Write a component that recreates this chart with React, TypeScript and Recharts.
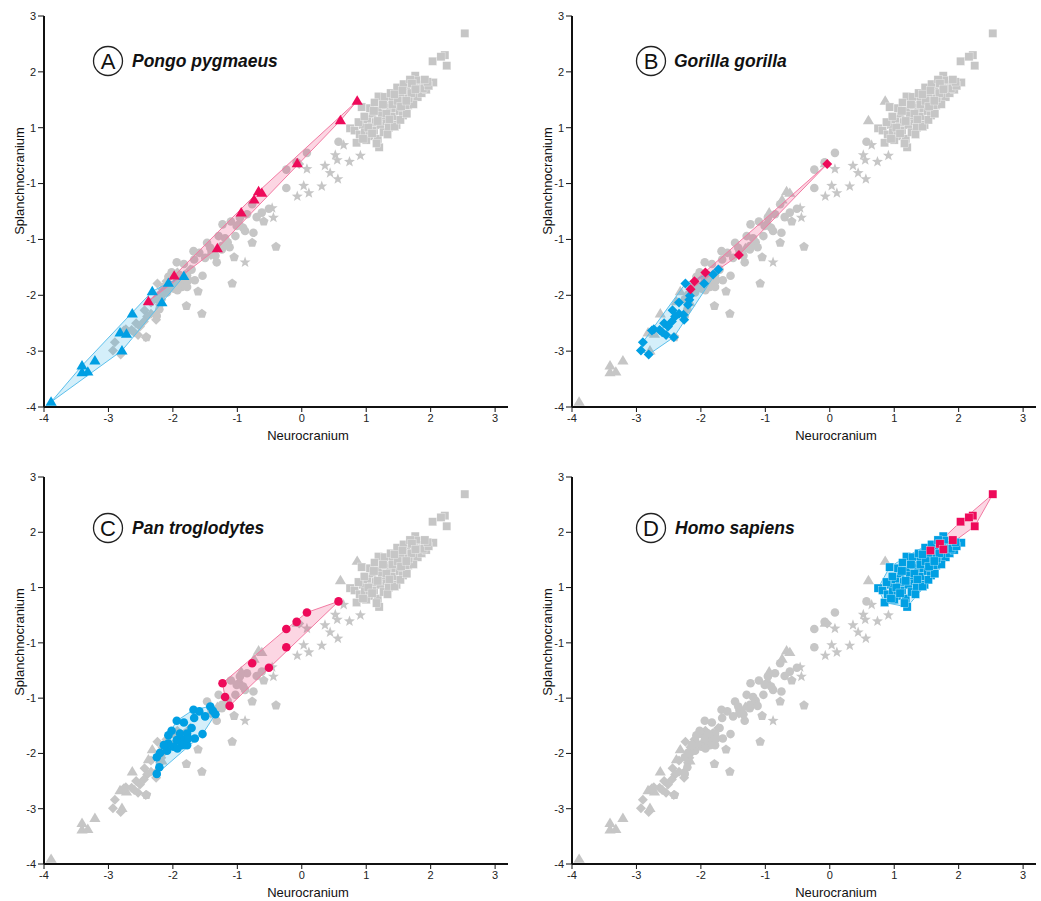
import { ScatterChart, Scatter, XAxis, YAxis } from 'recharts'

const FONT = '"Liberation Sans", Arial, Helvetica, sans-serif'
const GRAY = '#c6c6c6'
const BLUE = '#009fe3'
const PINK = '#ee0a5a'

const xTicks = [-4, -3, -2, -1, 0, 1, 2, 3]
const yTicks = [-4, -3, -2, -1, 0, 1, 2, 3]
// the source figure labels the zero line "-1"
const yTickLabel = (v: number) => (v === 0 ? '-1' : String(v))

// Pongo pygmaeus (triangles)
const pongoBlue = [
  [-3.89, -3.91], [-3.41, -3.26], [-3.41, -3.38], [-3.32, -3.37], [-3.21, -3.17],
  [-2.79, -2.99], [-2.82, -2.67], [-2.72, -2.69], [-2.63, -2.33], [-2.32, -1.93],
  [-2.17, -2.13], [-2.07, -1.78], [-1.83, -1.66],
]
const pongoPink = [
  [-2.38, -2.11], [-1.98, -1.65], [-1.31, -1.16], [-0.94, -0.52], [-0.74, -0.29],
  [-0.67, -0.14], [-0.62, -0.17], [-0.07, 0.36], [0.6, 1.13], [0.86, 1.48],
]

// Gorilla gorilla (diamonds)
const gorillaBlue = [
  [-1.73, -1.54], [-1.81, -1.63], [-1.95, -1.79], [-2.24, -1.79], [-2.17, -2.01],
  [-2.18, -2.08], [-2.2, -2.17], [-2.34, -2.13], [-2.44, -2.27], [-2.4, -2.38],
  [-2.26, -2.44], [-2.45, -2.47], [-2.57, -2.5], [-2.51, -2.56], [-2.64, -2.62],
  [-2.73, -2.61], [-2.76, -2.63], [-2.54, -2.71], [-2.42, -2.75], [-2.9, -2.84],
  [-2.93, -2.99], [-2.81, -3.06], [-2.34, -2.33], [-2.27, -2.35], [-2.6, -2.66],
]
const gorillaPink = [
  [-0.04, 0.35], [-1.41, -1.28], [-1.93, -1.59], [-2.1, -1.75], [-2.16, -1.89],
]

// Pan troglodytes (circles)
const panBlue = [
  [-2.25, -2.37], [-2.21, -2.25], [-2.25, -2.07], [-2.2, -1.99], [-2.09, -1.95],
  [-2.07, -1.67], [-2.02, -1.59], [-1.94, -1.41], [-1.83, -1.44], [-1.68, -1.21],
  [-1.59, -1.24], [-1.5, -1.33], [-1.67, -1.36], [-1.42, -1.15], [-1.38, -1.23],
  [-1.34, -1.29], [-1.54, -1.65], [-1.66, -1.73], [-1.71, -1.54], [-1.78, -1.64],
  [-1.84, -1.76], [-1.86, -1.85], [-1.94, -1.76], [-1.99, -1.88], [-2.07, -1.82],
  [-2.14, -1.85], [-1.93, -1.91], [-1.78, -1.85], [-1.89, -1.64], [-1.76, -1.73],
]
const panPink = [
  [0.57, 0.75], [0.08, 0.55], [-0.08, 0.38], [-0.24, 0.25], [-0.24, -0.08],
  [-0.77, -0.37], [-0.51, -0.45], [-1.23, -0.73], [-1.19, -0.98], [-1.12, -1.14],
]

// Homo sapiens (squares)
const homoBlue = [
  [0.75, 0.99], [0.85, 0.73], [1.2, 0.65], [2.04, 1.81], [1.76, 1.93], [1.19, 1.56], [0.93, 1.37],
  [0.82, 0.95], [0.9, 0.88], [0.95, 1.05], [0.98, 0.92], [1.02, 1.15], [1.05, 0.85], [1.08, 1.02],
  [1.1, 1.25], [1.12, 0.95], [1.15, 1.1], [1.18, 0.8], [1.2, 1.3], [1.22, 1.05], [1.25, 1.18],
  [1.27, 0.92], [1.3, 1.4], [1.32, 1.12], [1.35, 1.0], [1.37, 1.28], [1.4, 1.5], [1.42, 1.2],
  [1.45, 1.35], [1.47, 1.05], [1.5, 1.62], [1.52, 1.3], [1.55, 1.45], [1.57, 1.22], [1.6, 1.55],
  [1.62, 1.72], [1.65, 1.4], [1.67, 1.6], [1.7, 1.8], [1.72, 1.5], [1.75, 1.65], [1.78, 1.85],
  [1.8, 1.55], [1.83, 1.72], [1.86, 1.62], [1.9, 1.78], [1.93, 1.68], [0.88, 1.1], [0.97, 1.2],
  [1.0, 0.78], [1.06, 1.35], [1.13, 1.45], [1.16, 0.72], [1.28, 1.55], [1.33, 0.88], [1.38, 1.62],
  [1.44, 1.02], [1.48, 1.72], [1.53, 1.14], [1.58, 1.78], [1.63, 1.25], [1.68, 1.86], [1.73, 1.42],
  [1.88, 1.7], [1.03, 1.0], [1.24, 1.22], [1.41, 1.42], [1.56, 1.58], [1.66, 1.52], [1.09, 0.9],
  [1.31, 1.25], [1.49, 1.48], [1.97, 1.75], [1.95, 1.82], [1.7, 1.62], [1.54, 1.38], [1.36, 1.15],
  [1.18, 1.12], [0.95, 0.8], [1.12, 1.3], [1.26, 1.42], [1.44, 1.6], [1.62, 1.48], [1.78, 1.7],
]
const homoPink = [
  [2.53, 2.69], [2.22, 2.3], [2.16, 2.27], [2.03, 2.19], [2.25, 2.11],
  [1.91, 1.86], [1.71, 1.79], [1.76, 1.69], [1.56, 1.67],
]

// other groups, always grey
const otherCircles = [
  [-1.29, -0.94], [-1.32, -1.41], [-1.47, -1.06], [-1.03, -0.94], [-0.96, -0.61],
  [-0.88, -0.85], [-0.97, -0.73], [-0.62, -0.52], [-0.75, -0.88], [-1.24, -1.18],
  [-1.01, -0.76], [-0.91, -0.79], [-1.24, -1.12], [-1.1, -0.68], [-0.85, -0.55],
  [-1.4, -1.22], [-1.15, -1.05], [-0.7, -0.6],
]
const otherPentagons = [
  [-0.59, -0.68], [-0.77, -1.06], [-0.4, -1.13], [-1.05, -1.32], [-1.08, -1.79],
  [-1.61, -1.93], [-1.79, -2.19], [-1.55, -2.33], [-2.41, -2.75],
]
const otherStars = [
  [0.65, 0.69], [0.91, 0.5], [0.52, 0.51], [0.74, 0.39], [0.55, 0.42], [0.36, 0.32],
  [0.44, 0.19], [0.56, 0.08], [0.31, -0.05], [0.08, 0.26], [0.03, -0.04], [0.11, -0.17],
  [-0.07, -0.23], [-0.46, -0.44], [-0.44, -0.61], [-0.88, -1.41],
]

type Pt = { x: number; y: number }
const toPts = (rows: number[][]): Pt[] => rows.map(([x, y]) => ({ x, y }))

type Kind = 'triangle' | 'diamond' | 'circle' | 'square' | 'pentagon' | 'star'

const species = [
  { id: 'pongo', kind: 'triangle' as Kind, blue: pongoBlue, pink: pongoPink },
  { id: 'gorilla', kind: 'diamond' as Kind, blue: gorillaBlue, pink: gorillaPink },
  { id: 'pan', kind: 'circle' as Kind, blue: panBlue, pink: panPink },
  { id: 'homo', kind: 'square' as Kind, blue: homoBlue, pink: homoPink },
]
const others = [
  { id: 'circ', kind: 'circle' as Kind, data: otherCircles },
  { id: 'pent', kind: 'pentagon' as Kind, data: otherPentagons },
  { id: 'star', kind: 'star' as Kind, data: otherStars },
]

const panels = [
  { letter: 'A', name: 'Pongo pygmaeus', focus: 'pongo', left: 0, top: 0, plotH: 391, cx: 108, cy: 61, tx: 132 },
  { letter: 'B', name: 'Gorilla gorilla', focus: 'gorilla', left: 528, top: 0, plotH: 391, cx: 651, cy: 61, tx: 674 },
  { letter: 'C', name: 'Pan troglodytes', focus: 'pan', left: 0, top: 461, plotH: 387, cx: 108, cy: 528, tx: 132 },
  { letter: 'D', name: 'Homo sapiens', focus: 'homo', left: 528, top: 461, plotH: 387, cx: 651, cy: 528, tx: 675 },
]

function polyPath(cx: number, cy: number, n: number, r: number, r2?: number) {
  const count = r2 ? n * 2 : n
  let d = ''
  for (let i = 0; i < count; i++) {
    const a = -Math.PI / 2 + (i * 2 * Math.PI) / count
    const rr = r2 && i % 2 === 1 ? r2 : r
    d += (i === 0 ? 'M' : 'L') + (cx + rr * Math.cos(a)).toFixed(2) + ',' + (cy + rr * Math.sin(a)).toFixed(2)
  }
  return d + 'Z'
}

function marker(kind: Kind, color: string) {
  return (props: any) => {
    const { cx, cy } = props
    if (cx == null || cy == null) return <g />
    switch (kind) {
      case 'circle':
        return <circle cx={cx} cy={cy} r={4.3} fill={color} />
      case 'square':
        return <rect x={cx - 4.1} y={cy - 4.1} width={8.2} height={8.2} fill={color} stroke="#fff" strokeWidth={0.3} />
      case 'diamond':
        return <path d={`M${cx},${cy - 5}L${cx + 5},${cy}L${cx},${cy + 5}L${cx - 5},${cy}Z`} fill={color} />
      case 'triangle':
        return <path d={`M${cx},${cy - 5.6}L${cx + 5.6},${cy + 3.8}L${cx - 5.6},${cy + 3.8}Z`} fill={color} />
      case 'pentagon':
        return <path d={polyPath(cx, cy, 5, 5)} fill={color} />
      default:
        return <path d={polyPath(cx, cy, 5, 5.8, 2.4)} fill={color} />
    }
  }
}

const noMark = () => <g />

function convexHull(points: { x: number; y: number }[]) {
  const p = [...points].sort((a, b) => a.x - b.x || a.y - b.y)
  const cross = (o: any, a: any, b: any) => (a.x - o.x) * (b.y - o.y) - (a.y - o.y) * (b.x - o.x)
  const lower: any[] = []
  for (const q of p) {
    while (lower.length >= 2 && cross(lower[lower.length - 2], lower[lower.length - 1], q) <= 0) lower.pop()
    lower.push(q)
  }
  const upper: any[] = []
  for (let i = p.length - 1; i >= 0; i--) {
    const q = p[i]
    while (upper.length >= 2 && cross(upper[upper.length - 2], upper[upper.length - 1], q) <= 0) upper.pop()
    upper.push(q)
  }
  return lower.slice(0, -1).concat(upper.slice(0, -1))
}

// gets the pixel points of the scatter from recharts (line prop)
function Hull(props: any) {
  const { points, hullFill, hullStroke } = props
  if (!points || points.length < 3) return null
  const h = convexHull(points.filter((q: any) => q.x != null && q.y != null))
  return (
    <polygon
      points={h.map((q: any) => `${q.x},${q.y}`).join(' ')}
      fill={hullFill}
      fillOpacity={0.17}
      stroke={hullStroke}
      strokeWidth={1}
    />
  )
}

const XLabel = (props: any) => {
  const vb = props.viewBox
  return (
    <text x={vb.x + 264} y={vb.y + 33} textAnchor="middle" fontSize={13} fontFamily={FONT} fill="#111">
      Neurocranium
    </text>
  )
}

const YLabel = (props: any) => {
  const vb = props.viewBox
  const x = 19
  const y = vb.y + 165
  return (
    <text x={x} y={y} transform={`rotate(-90, ${x}, ${y})`} textAnchor="middle" dominantBaseline="central" fontSize={13} fontFamily={FONT} fill="#111">
      Splanchnocranium
    </text>
  )
}

function Panel({ focus, left, top, plotH }: { focus: string; left: number; top: number; plotH: number }) {
  const height = 16 + plotH + 45
  const focused = species.find((s) => s.id === focus)!
  return (
    <div style={{ position: 'absolute', left, top }}>
      <ScatterChart width={518} height={height} margin={{ top: 16, right: 10, bottom: 0, left: 0 }}>
        <XAxis
          type="number"
          dataKey="x"
          domain={[-4, 3.2]}
          ticks={xTicks}
          interval={0}
          height={45}
          tickSize={5}
          tickMargin={2}
          axisLine={{ stroke: '#111', strokeWidth: 2 }}
          tickLine={{ stroke: '#111', strokeWidth: 1 }}
          tick={{ fontSize: 11, fill: '#222', fontFamily: FONT }}
          label={{ content: XLabel }}
        />
        <YAxis
          type="number"
          dataKey="y"
          domain={[-4, 3]}
          ticks={yTicks}
          interval={0}
          width={44}
          tickSize={6}
          tickMargin={2}
          tickFormatter={yTickLabel}
          axisLine={{ stroke: '#111', strokeWidth: 2 }}
          tickLine={{ stroke: '#111', strokeWidth: 1 }}
          tick={{ fontSize: 11, fill: '#222', fontFamily: FONT }}
          label={{ content: YLabel }}
        />
        {others.map((g) => (
          <Scatter key={g.id} data={toPts(g.data)} fill={GRAY} shape={marker(g.kind, GRAY)} isAnimationActive={false} />
        ))}
        {species
          .filter((s) => s.id !== focus)
          .map((s) => (
            <Scatter
              key={s.id}
              data={toPts([...s.blue, ...s.pink])}
              fill={GRAY}
              shape={marker(s.kind, GRAY)}
              isAnimationActive={false}
            />
          ))}
        <Scatter
          data={toPts(focused.blue)}
          fill={BLUE}
          line={<Hull hullFill={BLUE} hullStroke="#5cc0ec" />}
          lineType="joint"
          shape={noMark}
          isAnimationActive={false}
        />
        <Scatter
          data={toPts(focused.pink)}
          fill={PINK}
          line={<Hull hullFill={PINK} hullStroke="#f27aa2" />}
          lineType="joint"
          shape={noMark}
          isAnimationActive={false}
        />
        <Scatter data={toPts(focused.blue)} fill={BLUE} shape={marker(focused.kind, BLUE)} isAnimationActive={false} />
        <Scatter data={toPts(focused.pink)} fill={PINK} shape={marker(focused.kind, PINK)} isAnimationActive={false} />
      </ScatterChart>
    </div>
  )
}

export default function App() {
  return (
    <div style={{ position: 'absolute', left: 0, top: 0, width: 1041, height: 901, background: '#fff' }}>
      {panels.map((p) => (
        <Panel key={p.letter} focus={p.focus} left={p.left} top={p.top} plotH={p.plotH} />
      ))}
      <svg width={1041} height={901} style={{ position: 'absolute', left: 0, top: 0, pointerEvents: 'none' }}>
        {panels.map((p) => (
          <g key={p.letter}>
            <circle cx={p.cx} cy={p.cy} r={14.5} fill="none" stroke="#222" strokeWidth={1.3} />
            <text x={p.cx} y={p.cy + 7.8} textAnchor="middle" fontSize={22} fontFamily={FONT} fill="#111">
              {p.letter}
            </text>
            <text x={p.tx} y={p.cy + 6} fontSize={17.5} fontStyle="italic" fontWeight="bold" fontFamily={FONT} fill="#111">
              {p.name}
            </text>
          </g>
        ))}
      </svg>
    </div>
  )
}
